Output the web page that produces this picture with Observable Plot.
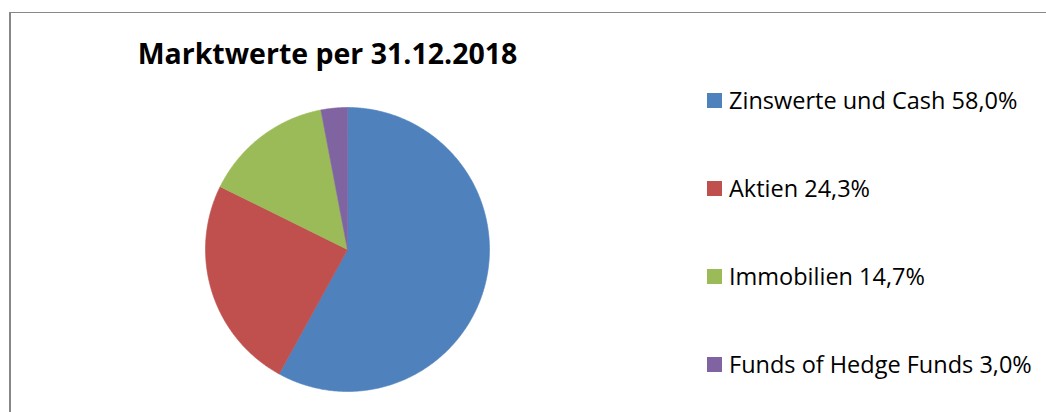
<!DOCTYPE html>
<html>
<head>
<meta charset="utf-8">
<script src="https://cdn.jsdelivr.net/npm/d3@7"></script>
<script src="https://cdn.jsdelivr.net/npm/@observablehq/plot@0.6"></script>
<style>
  html, body { margin: 0; padding: 0; background: #fff; }
  #wrap { position: relative; width: 1046px; height: 412px; overflow: hidden; background: #fff; }
  #frame { position: absolute; left: 9px; top: 12px; width: 1100px; height: 500px;
           border-left: 2px solid #878787; border-top: 1.5px solid #878787; box-sizing: border-box; }
  #chart { position: absolute; left: 0; top: 0; }
</style>
</head>
<body>
<div id="wrap"><div id="frame"></div><div id="chart"></div></div>
<script>
// ---- data ----
const title = "Marktwerte per 31.12.2018";
const categories = ["Zinswerte und Cash", "Aktien", "Immobilien", "Funds of Hedge Funds"];
const shares = [58.0, 24.3, 14.7, 3.0];
const colors = ["#4F81BD", "#C0504D", "#9BBB59", "#8064A2"];

// ---- layout ----
const W = 1046, H = 412;
const cx = 347, cy = 249, R = 142;

// build slice polygons from the shares (clockwise from 12 o'clock)
const arcs = d3.pie().sort(null).value(d => d.share)(
  categories.map((name, i) => ({name, share: shares[i]}))
);
const pts = [];
for (const a of arcs) {
  const name = a.data.name;
  pts.push({name, x: 0, y: 0});
  const n = Math.max(4, Math.ceil((a.endAngle - a.startAngle) / 0.01));
  for (let k = 0; k <= n; k++) {
    const t = a.startAngle + (a.endAngle - a.startAngle) * k / n;
    pts.push({name, x: Math.sin(t), y: Math.cos(t)});
  }
}

const plot = Plot.plot({
  width: W, height: H,
  margin: 0,
  x: {domain: [-cx / R, (W - cx) / R], axis: null},
  y: {domain: [(cy - H) / R, cy / R], axis: null},
  color: {domain: categories, range: colors},
  marks: [
    Plot.line(pts, {x: "x", y: "y", z: "name", fill: "name", stroke: "name",
                    strokeWidth: 0.6, curve: "linear-closed"})
  ]
});
document.getElementById("chart").appendChild(plot);

// title + legend as text in the same svg
const svg = d3.select(plot);
svg.append("text")
  .attr("x", 327.5).attr("y", 64)
  .attr("text-anchor", "middle")
  .attr("font-family", "'Open Sans', sans-serif")
  .attr("font-weight", "bold")
  .attr("font-size", 28.5)
  .attr("fill", "#000")
  .text(title);

const fmt = v => v.toFixed(1).replace(".", ",") + "%";
const legendTop = [93, 181, 269, 357];
categories.forEach((c, i) => {
  svg.append("rect")
    .attr("x", 707).attr("y", legendTop[i])
    .attr("width", 15).attr("height", 15)
    .attr("fill", colors[i]);
  svg.append("text")
    .attr("x", 729).attr("y", legendTop[i] + 15.5)
    .attr("text-anchor", "start")
    .attr("font-family", "'Open Sans', sans-serif")
    .attr("font-size", 23.5)
    .attr("fill", "#000")
    .text(c + " " + fmt(shares[i]));
});
</script>
</body>
</html>
